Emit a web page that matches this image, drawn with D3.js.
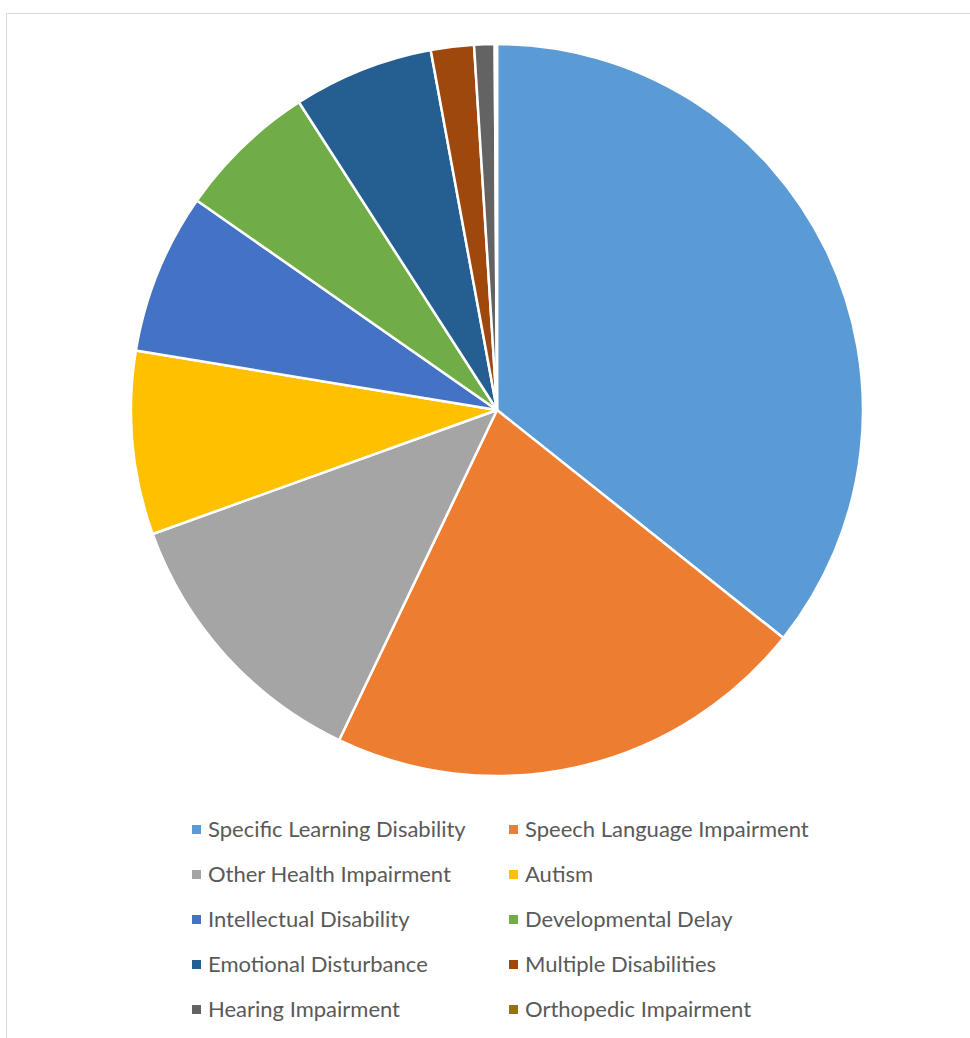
<!DOCTYPE html>
<html>
<head>
<meta charset="utf-8">
<script src="https://cdn.jsdelivr.net/npm/d3@7"></script>
<style>
  html, body { margin: 0; padding: 0; background: #fff; }
  svg { display: block; }
</style>
</head>
<body>
<div id="chart"></div>
<script>
// categories and shares (percent)
var categories = [
  "Specific Learning Disability", "Speech Language Impairment",
  "Other Health Impairment", "Autism",
  "Intellectual Disability", "Developmental Delay",
  "Emotional Disturbance", "Multiple Disabilities",
  "Hearing Impairment", "Orthopedic Impairment"
];
var shares = [35.7, 21.4, 12.4, 8.1, 7.1, 6.2, 6.2, 1.9, 0.9, 0.1];
var colors = [
  "#5b9bd5", "#ed7d31", "#a5a5a5", "#ffc000", "#4472c4",
  "#70ad47", "#255e91", "#9e480e", "#636363", "#997300"
];

var width = 970, height = 1038;
var cx = 497, cy = 410, radius = 366;

var svg = d3.select("#chart").append("svg")
  .attr("width", width)
  .attr("height", height);

// chart area border
svg.append("rect")
  .attr("x", 6.5).attr("y", 13.5)
  .attr("width", 980).attr("height", 1040)
  .attr("fill", "#fff")
  .attr("stroke", "#d9d9d9")
  .attr("stroke-width", 1);

var data = categories.map(function (c, i) {
  return { name: c, value: shares[i], color: colors[i] };
});

var pie = d3.pie()
  .sort(null)
  .value(function (d) { return d.value; });

var arc = d3.arc()
  .innerRadius(0)
  .outerRadius(radius);

var g = svg.append("g")
  .attr("transform", "translate(" + cx + "," + cy + ")");

g.selectAll("path")
  .data(pie(data))
  .enter().append("path")
  .attr("d", arc)
  .attr("fill", function (d) { return d.data.color; })
  .attr("stroke", "#fff")
  .attr("stroke-width", 2.5)
  .attr("stroke-linejoin", "round");

// legend, two columns
var colX = [192, 509];
var rowY0 = 829, rowStep = 45;

var legend = svg.append("g");
var items = legend.selectAll("g.item")
  .data(data)
  .enter().append("g")
  .attr("class", "item")
  .attr("transform", function (d, i) {
    return "translate(" + colX[i % 2] + "," + (rowY0 + Math.floor(i / 2) * rowStep) + ")";
  });

items.append("rect")
  .attr("x", 0).attr("y", -4)
  .attr("width", 9).attr("height", 9)
  .attr("fill", function (d) { return d.color; });

items.append("text")
  .attr("x", 16)
  .attr("y", 0)
  .attr("dy", "0.35em")
  .attr("fill", "#595959")
  .style("font-family", "Lato, 'Open Sans', sans-serif")
  .style("font-size", "22px")
  .text(function (d) { return d.name; });
</script>
</body>
</html>
